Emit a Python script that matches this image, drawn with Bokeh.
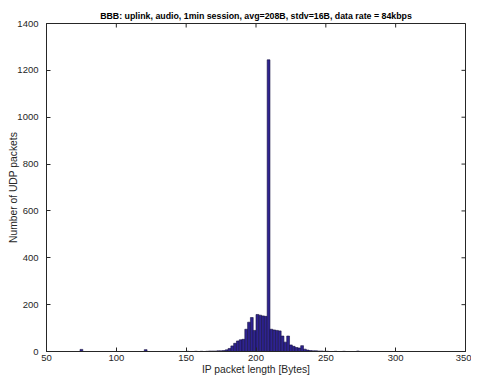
import math
from bokeh.plotting import figure
from bokeh.models import Range1d, FixedTicker
from bokeh.embed import file_html
from bokeh.resources import INLINE

# bin left edges (bytes) and counts
bin_left = [74, 120, 150, 156, 160, 164, 166, 168, 170, 172, 174, 176, 178, 180, 182, 184, 186, 188,
            190, 192, 194, 196, 198, 200, 202, 204, 206, 208, 210, 212, 214, 216, 218, 220,
            222, 224, 226, 228, 230, 232, 234, 236, 238, 240, 242, 244, 246, 248, 250, 256, 262, 272]
counts = [9, 8, 1, 1, 1, 1, 2, 2, 2, 3, 3, 4, 7, 13, 24, 35, 45, 50,
          52, 95, 125, 145, 90, 158, 155, 152, 150, 1245, 95, 92, 90, 88, 66, 40,
          66, 28, 22, 17, 15, 25, 10, 6, 4, 3, 3, 2, 2, 1, 1, 1, 1, 2]
bin_width = 2

title = "BBB: uplink, audio, 1min session, avg=208B, stdv=16B, data rate = 84kbps"
x_label = "IP packet length [Bytes]"
y_label = "Number of UDP packets"
x_ticks = [50, 100, 150, 200, 250, 300, 350]
y_ticks = [0, 200, 400, 600, 800, 1000, 1200, 1400]
x_min, x_max = 50, 350
y_min, y_max = 0, 1400

FONT = "Liberation Sans"
AX = "#262626"

p = figure(width=471, height=377, output_backend="svg", toolbar_location=None,
           x_range=Range1d(x_min, x_max), y_range=Range1d(y_min, y_max),
           min_border_left=46, min_border_right=6, min_border_top=23, min_border_bottom=0)
p.title.text = title
p.title.align = "center"
p.title.text_font = FONT
p.title.text_font_size = "8.8px"
p.title.text_font_style = "bold"
p.title.text_color = "#000000"
p.title.standoff = 6
p.grid.visible = False
p.outline_line_color = AX
p.outline_line_width = 1

rights = [l + bin_width for l in bin_left]
p.quad(left=bin_left, right=rights, bottom=0, top=counts,
       fill_color="#2e2390", line_color="#16103f", line_width=0.6)

# mirrored inward ticks on top and right edges (clipped to the frame)
p.scatter(x=x_ticks, y=[y_max] * len(x_ticks), marker="dash", angle=math.pi / 2,
          size=8, line_color=AX, line_width=1)
p.scatter(x=[x_max] * len(y_ticks), y=y_ticks, marker="dash", angle=0,
          size=8, line_color=AX, line_width=1)

for ax in (p.xaxis[0], p.yaxis[0]):
    ax.major_tick_in = 4
    ax.major_tick_out = 0
    ax.minor_tick_line_color = None
    ax.axis_line_color = AX
    ax.major_tick_line_color = AX
    ax.major_label_text_font = FONT
    ax.major_label_text_font_size = "9.5px"
    ax.major_label_text_color = AX
    ax.axis_label_text_font = FONT
    ax.axis_label_text_font_size = "10.3px"
    ax.axis_label_text_font_style = "normal"
    ax.axis_label_text_color = AX

p.xaxis[0].ticker = FixedTicker(ticks=x_ticks)
p.yaxis[0].ticker = FixedTicker(ticks=y_ticks)
p.xaxis[0].axis_label = x_label
p.yaxis[0].axis_label = y_label
p.xaxis[0].major_label_standoff = 3
p.xaxis[0].axis_label_standoff = 0
p.yaxis[0].major_label_standoff = 8
p.yaxis[0].axis_label_standoff = -5

open("out.html", "w").write(file_html(p, INLINE))
